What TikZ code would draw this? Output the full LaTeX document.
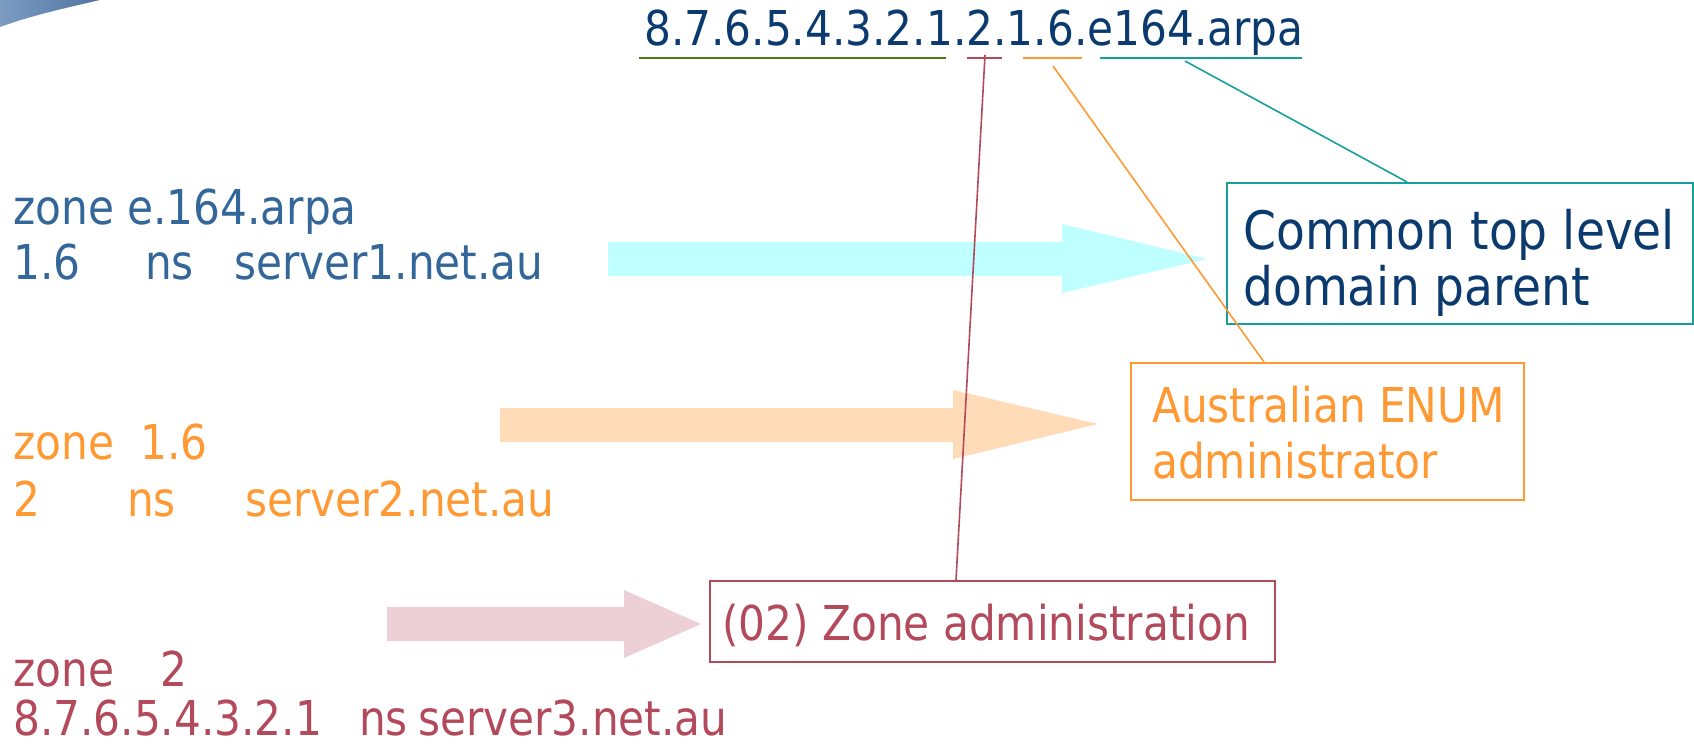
\documentclass[tikz,border=0pt]{standalone}
\usepackage{fontspec}
\setmainfont{DejaVu Sans}[FakeStretch=0.88]
\newfontfamily\bigfam{DejaVu Sans}[FakeStretch=0.89]
\usetikzlibrary{calc}
\definecolor{navy}{HTML}{0B3A6E}
\definecolor{steel}{HTML}{336699}
\definecolor{orng}{HTML}{FF9933}
\definecolor{rose}{HTML}{B34A5C}
\definecolor{olive}{HTML}{4D7A0F}
\definecolor{tealc}{HTML}{16A09C}
\definecolor{cyanfill}{HTML}{BFFFFF}
\definecolor{peach}{HTML}{FFDBB7}
\definecolor{pinkfill}{HTML}{ECD0D5}
\definecolor{swL}{HTML}{7C9CC2}
\definecolor{swR}{HTML}{4F73A1}
\begin{document}
\begin{tikzpicture}[x=1pt,y=-1pt,
  txt/.style={inner sep=0pt, anchor=base west, font=\fontsize{48}{56}\selectfont},
  bigtxt/.style={inner sep=0pt, anchor=base west, font=\bigfam\fontsize{53}{60}\selectfont},
  box/.style={draw, line width=2pt, anchor=north west, inner sep=0pt},
  uline/.style={line width=2.2pt},
  conn/.style={line width=1.6pt}]
\useasboundingbox (0,0) rectangle (1694,747);
% top-left swoosh
\shade[left color=swL, right color=swR] (0,0) -- (100,0) .. controls (65,8) and (30,16) .. (0,27) -- cycle;

% block arrows
\fill[cyanfill] (608,242) -- (1062,242) -- (1062,224) -- (1207,259) -- (1062,293) -- (1062,276) -- (608,276) -- cycle;
\fill[peach] (500,408) -- (953,408) -- (953,390) -- (1098,424) -- (953,459) -- (953,442) -- (500,442) -- cycle;
\fill[pinkfill] (387,607) -- (624,607) -- (624,590) -- (701,624) -- (624,658) -- (624,641) -- (387,641) -- cycle;

% top domain
\node[txt, text=navy] (dom) at (644,45) {8.7.6.5.4.3.2.1.2.1.6.e164.arpa};
\coordinate (gA) at (639,58); \coordinate (gB) at (946,58);
\coordinate (rA) at (967,58); \coordinate (rB) at (1002,58);
\coordinate (oA) at (1023,58); \coordinate (oB) at (1082,58);
\coordinate (tA) at (1100,58); \coordinate (tB) at (1302,58);
\draw[uline, olive] (gA) -- (gB);
\draw[uline, rose] (rA) -- (rB);
\draw[uline, orng] (oA) -- (oB);
\draw[uline, tealc] (tA) -- (tB);

% boxes
\node[box, draw=tealc, minimum width=466pt, minimum height=141pt] (common) at (1226,182) {};
\node[bigtxt, text=navy] (ct1) at (1243,249) {Common top level};
\node[bigtxt, text=navy] (ct2) at (1243,305) {domain parent};

\node[box, draw=orng, minimum width=393pt, minimum height=137pt] (aus) at (1130,362) {};
\node[txt, text=orng] (at1) at (1152,422) {Australian ENUM};
\node[txt, text=orng] (at2) at (1152,478) {administrator};

\node[box, draw=rose, minimum width=565pt, minimum height=81pt] (zone) at (709,580) {};
\node[txt, text=rose] (zt) at (722,640) {(02) Zone administration};

% connectors
\coordinate (tStart) at (1185,61);
\coordinate (oStart) at (1053,66);
\coordinate (rStart) at (985,55);
\draw[conn, tealc] (tStart) -- ($(common.north west)+(181,0)$);
\draw[conn, orng] (oStart) -- ($(aus.north west)+(134,0)$);
\draw[conn, rose] (rStart) -- ($(zone.north west)+(247,0)$);

% left zone texts
\node[txt, text=steel] (b1) at (13,224) {zone e.164.arpa};
\node[txt, text=steel] (b2a) at (13,279) {1.6};
\node[txt, text=steel] (b2b) at (145,279) {ns};
\node[txt, text=steel] (b2c) at (234,279) {server1.net.au};

\node[txt, text=orng] (o1a) at (13,459) {zone};
\node[txt, text=orng] (o1b) at (140,459) {1.6};
\node[txt, text=orng] (o2a) at (13,516) {2};
\node[txt, text=orng] (o2b) at (127,516) {ns};
\node[txt, text=orng] (o2c) at (245,516) {server2.net.au};

\node[txt, text=rose] (r1a) at (13,686) {zone};
\node[txt, text=rose] (r1b) at (160,686) {2};
\node[txt, text=rose] (r2a) at (13,735) {8.7.6.5.4.3.2.1};
\node[txt, text=rose] (r2b) at (359,735) {ns};
\node[txt, text=rose] (r2c) at (418,735) {server3.net.au};
\end{tikzpicture}
\end{document}
